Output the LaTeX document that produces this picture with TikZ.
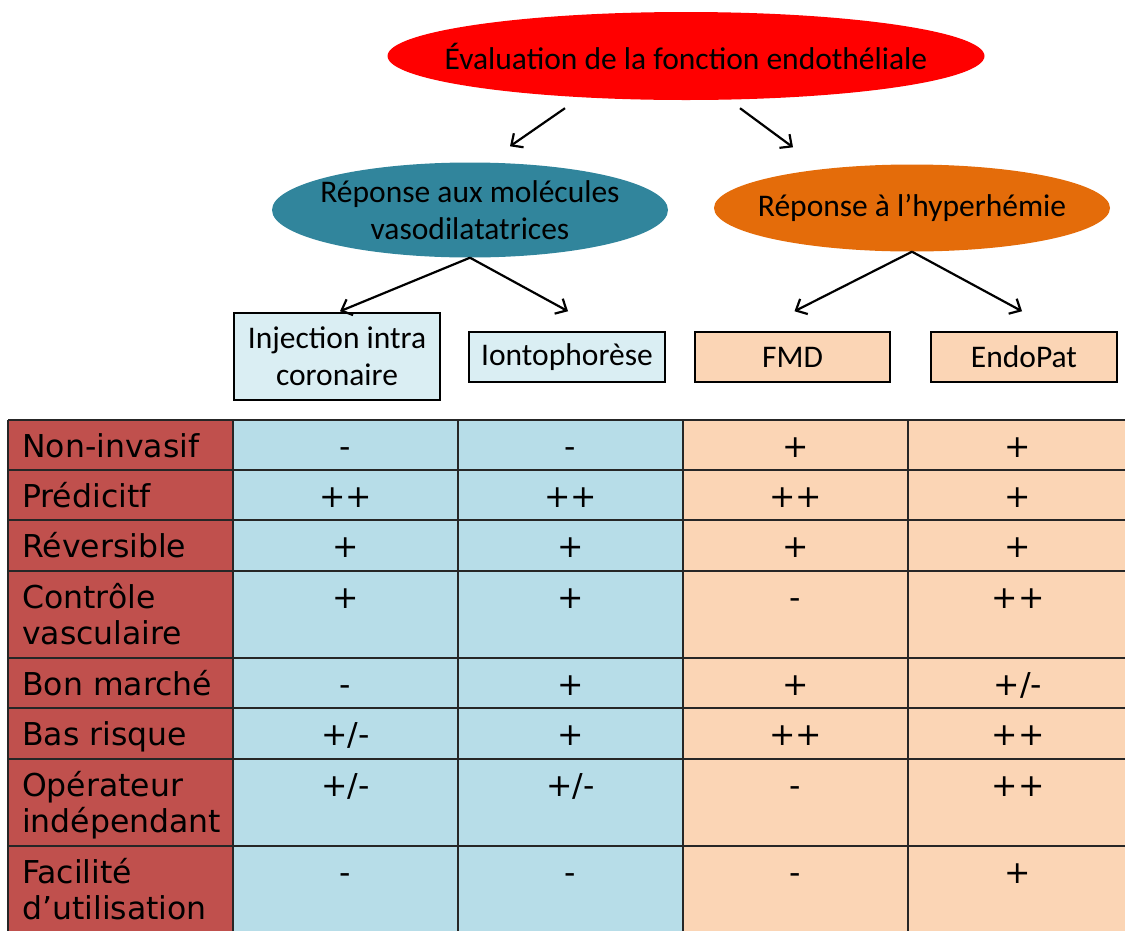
\documentclass[tikz,border=0pt]{standalone}
\usepackage{fontspec}
\setmainfont{Carlito}
\newfontfamily\tabfont{DejaVu Sans}
\usetikzlibrary{shapes.geometric,arrows.meta,calc}
\definecolor{evalred}{HTML}{FF0000}
\definecolor{vasoteal}{HTML}{31859C}
\definecolor{hyperorange}{HTML}{E46C0A}
\definecolor{boxblue}{HTML}{DAEEF3}
\definecolor{boxorange}{HTML}{FBD5B5}
\definecolor{cellred}{HTML}{C0504D}
\definecolor{cellblue}{HTML}{B7DDE8}
\definecolor{cellorange}{HTML}{FBD5B5}

\begin{document}
\begin{tikzpicture}[x=1pt,y=-1pt,>={Straight Barb[length=9pt,width=17pt]},
    big/.style={ellipse,inner xsep=-70pt,inner ysep=-8pt,align=center,font=\fontsize{31.5}{37}\selectfont},
    method/.style={draw,line width=1.5pt,inner sep=0pt,align=center,font=\fontsize{31.5}{37}\selectfont},
    cell/.style={font=\tabfont\fontsize{31.5}{36}\selectfont,inner sep=0pt},
    grid/.style={line width=1.8pt,black!85},
    link/.style={->,line width=2.2pt}]
  \useasboundingbox (0,0) rectangle (1125,930);
  % top of the tree
  \node[big,fill=evalred,minimum width=597pt,minimum height=88pt] (eval) at (686,56) {Évaluation de la fonction endothéliale};
  \node[big,fill=vasoteal,minimum width=396pt,minimum height=95pt] (vaso) at (470,210) {Réponse aux molécules\\vasodilatatrices};
  \node[big,fill=hyperorange,minimum width=396pt,minimum height=87pt] (hyper) at (912,208) {Réponse à l’hyperhémie};
  % methods
  \node[method,fill=boxblue,minimum width=206pt,minimum height=87pt] (inject) at (337,356.5) {Injection intra\\coronaire};
  \node[method,fill=boxblue,minimum width=196pt,minimum height=50pt] (ionto) at (567,357) {Iontophorèse};
  \node[method,fill=boxorange,minimum width=195pt,minimum height=50pt] (fmd) at (792.5,357) {FMD};
  \node[method,fill=boxorange,minimum width=186pt,minimum height=50pt] (endopat) at (1024,357) {EndoPat};
  \draw[link] ($(eval.south)+(-121,8)$) -- ($(vaso.north)+(40,-16)$);
  \draw[link] ($(eval.south)+(54,8)$) -- ($(hyper.north)+(-119,-17)$);
  \draw[link] (vaso.south) -- ($(inject.north)+(3,-1)$);
  \draw[link] (vaso.south) -- ($(ionto.north)+(1,-20)$);
  \draw[link] (hyper.south) -- ($(fmd.north)+(2,-20)$);
  \draw[link] (hyper.south) -- ($(endopat.north)+(-2,-20)$);
  % table
  \fill[cellred] (8,420) rectangle (233,935);
  \fill[cellblue] (233,420) rectangle (683,935);
  \fill[cellorange] (683,420) rectangle (1130,935);
  \foreach \y in {420,470,520,571,658,708,759,846}
    \draw[grid] (8,\y) -- (1130,\y);
  \foreach \x in {8,233,458,683,908}
    \draw[grid] (\x,420) -- (\x,935);
  \foreach \top/\lab/\a/\b/\c/\d [count=\i] in {
      420/Non-invasif/-/-/+/+,
      470/Prédicitf/++/++/++/+,
      520/Réversible/+/+/+/+,
      571/{Contrôle\\vasculaire}/+/+/-/++,
      658/Bon marché/-/+/+/{+/-},
      708/Bas risque/{+/-}/+/++/++,
      759/{Opérateur\\indépendant}/{+/-}/{+/-}/-/++,
      846/{Facilité\\d’utilisation}/-/-/-/+}{
    \node[cell,anchor=base west] (crit\i) at (22,\top+37) {\parbox[t]{205pt}{\raggedright\lab}};
    \node[cell,anchor=base] (inj\i) at (345.5,\top+37) {\a};
    \node[cell,anchor=base] (ion\i) at (570.5,\top+37) {\b};
    \node[cell,anchor=base] (fmd\i) at (795.5,\top+37) {\c};
    \node[cell,anchor=base] (endo\i) at (1018,\top+37) {\d};
  }
\end{tikzpicture}
\end{document}
